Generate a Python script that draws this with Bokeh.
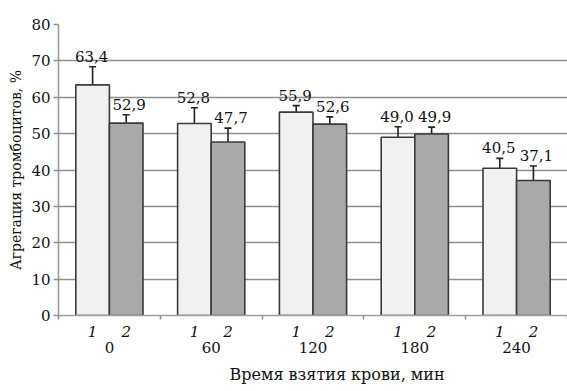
from bokeh.plotting import figure
from bokeh.models import (Range1d, LinearAxis, FixedTicker, Whisker, TeeHead,
                          ColumnDataSource, Title)
from bokeh.core.properties import value
from bokeh.embed import file_html
from bokeh.resources import INLINE

# ---- data ----
groups = ["0", "60", "120", "180", "240"]
sub_labels = ["1", "2"]
series1 = [63.4, 52.8, 55.9, 49.0, 40.5]
series2 = [52.9, 47.7, 52.6, 49.9, 37.1]
err1 = [5.0, 4.3, 1.8, 2.9, 2.7]
err2 = [2.3, 3.8, 2.0, 1.9, 4.0]
y_ticks = [0, 10, 20, 30, 40, 50, 60, 70, 80]
x_title = "Время взятия крови, мин"
y_title = "Агрегация тромбоцитов, %"

FONT = "DejaVu Serif"
FS = "15px"
W = 0.33
n = len(groups)
centers = [i + 0.5 for i in range(n)]
x1 = [c - W / 2 for c in centers]
x2 = [c + W / 2 for c in centers]

def fmt(v):
    return ("%.1f" % v).replace(".", ",")

src1 = ColumnDataSource(dict(x=x1, top=series1, up=[v + e for v, e in zip(series1, err1)],
                             lo=[v - e for v, e in zip(series1, err1)],
                             lab=[fmt(v) for v in series1]))
src2 = ColumnDataSource(dict(x=x2, top=series2, up=[v + e for v, e in zip(series2, err2)],
                             lo=[v - e for v, e in zip(series2, err2)],
                             lab=[fmt(v) for v in series2]))

p = figure(width=567, height=391, output_backend="svg", toolbar_location=None,
           x_range=Range1d(0, n), y_range=Range1d(0, 80),
           min_border_left=58, min_border_top=24, min_border_right=0,
           min_border_bottom=73)
p.outline_line_color = None
p.background_fill_color = "white"
p.xgrid.visible = False
p.ygrid.ticker = FixedTicker(ticks=y_ticks)
p.ygrid.grid_line_color = "#8f8f8f"
p.ygrid.grid_line_width = 1.6

# bars
for src, col, dx in ((src1, "#f1f1f1", -1), (src2, "#a9a9a9", 3)):
    p.vbar(x="x", top="top", width=W, bottom=0, source=src, fill_color=col,
           line_color="#3a3a3a", line_width=1.6)
    w = Whisker(source=src, base="x", upper="up", lower="lo",
                line_color="#222222", line_width=1.6,
                upper_head=TeeHead(size=7, line_color="#222222", line_width=1.6),
                lower_head=TeeHead(size=7, line_color="#222222", line_width=1.6))
    p.add_layout(w)
    p.text(x="x", y="up", text="lab", source=src, text_align="center",
           text_baseline="bottom", x_offset=dx, y_offset=-5, text_font=value(FONT),
           text_font_size="15px", text_color="#111111")

# y axis
ya = p.yaxis[0]
ya.ticker = FixedTicker(ticks=y_ticks, minor_ticks=[])
ya.axis_line_color = "#9a9a9a"
ya.axis_line_width = 1.6
ya.major_tick_line_color = "#8f8f8f"
ya.major_tick_line_width = 1.6
ya.major_tick_out = 5
ya.major_tick_in = 0
ya.major_label_standoff = 3
ya.major_label_text_font = FONT
ya.major_label_text_font_size = FS
ya.major_label_text_color = "#111111"
ya.axis_label = y_title
ya.axis_label_text_font = FONT
ya.axis_label_text_font_size = "14px"
ya.axis_label_text_font_style = "normal"
ya.axis_label_text_color = "#111111"
ya.axis_label_standoff = 4

# x axis A: sub labels 1/2, minor ticks at group boundaries
xa = p.xaxis[0]
bar_ticks = []
overrides = {}
for a, b in zip(x1, x2):
    bar_ticks += [a, b]
    overrides[a] = sub_labels[0]
    overrides[b] = sub_labels[1]
xa.ticker = FixedTicker(ticks=bar_ticks, minor_ticks=list(range(n + 1)))
xa.major_label_overrides = overrides
xa.axis_line_color = "#a0a0a0"
xa.axis_line_width = 1.6
xa.major_tick_line_color = None
xa.major_tick_out = 0
xa.major_tick_in = 0
xa.minor_tick_line_color = "#8f8f8f"
xa.minor_tick_line_width = 1.5
xa.minor_tick_out = 4
xa.minor_tick_in = 0
xa.major_label_standoff = 6
xa.major_label_text_font = FONT
xa.major_label_text_font_size = FS
xa.major_label_text_font_style = "italic"
xa.major_label_text_color = "#111111"

# x axis B: group labels
xb = LinearAxis(ticker=FixedTicker(ticks=centers, minor_ticks=[]),
                major_label_overrides={c: g for c, g in zip(centers, groups)})
xb.axis_line_color = None
xb.major_tick_line_color = None
xb.minor_tick_line_color = None
xb.major_tick_out = 0
xb.major_tick_in = 0
xb.major_label_standoff = 2
xb.major_label_text_font = FONT
xb.major_label_text_font_size = FS
xb.major_label_text_color = "#111111"
p.add_layout(xb, "below")

p.add_layout(Title(text=x_title, align="left", offset=171, text_font=FONT,
                   text_font_size="16px", text_font_style="normal",
                   text_color="#111111", standoff=15), "below")

open("out.html", "w").write(file_html(p, INLINE))
